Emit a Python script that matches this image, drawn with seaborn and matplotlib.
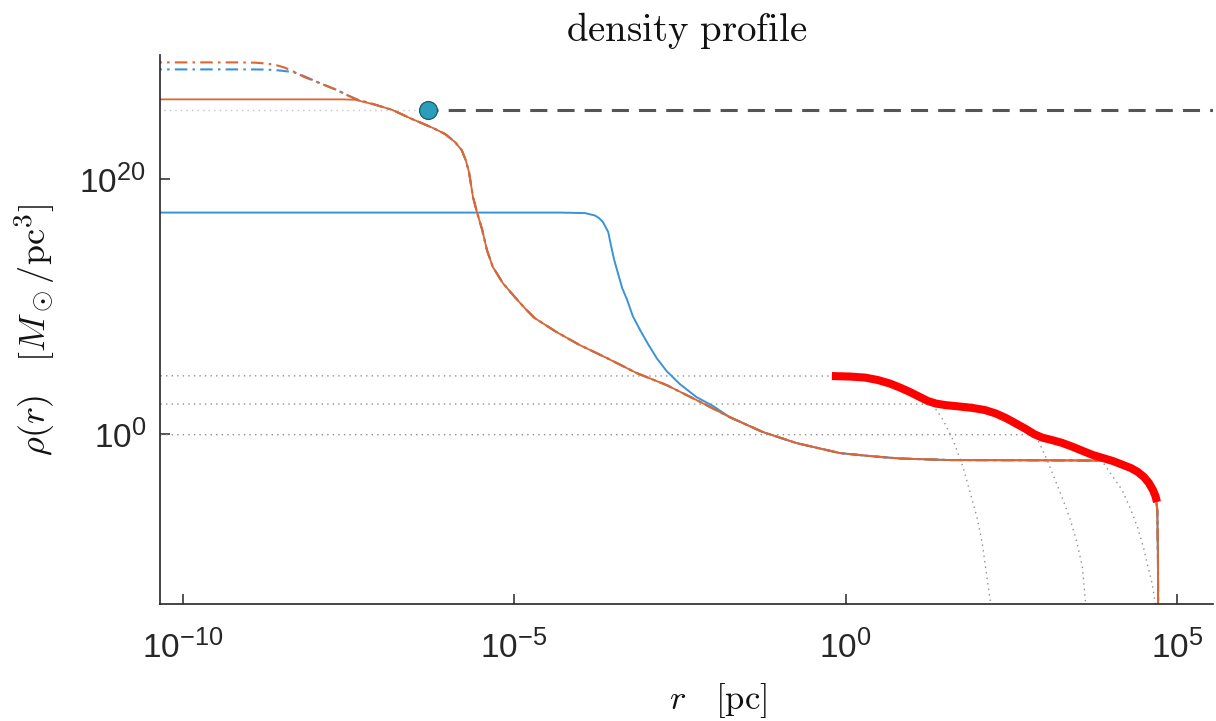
import numpy as np
import pandas as pd
import matplotlib
matplotlib.use("Agg")
import matplotlib.pyplot as plt
import seaborn as sns
from matplotlib.ticker import FixedLocator, NullLocator, FuncFormatter
import matplotlib._mathtext as _mt

# ---------------------------------------------------------------
# Density profiles, stored as log10(r / pc) and log10(rho / (Msun/pc^3))
# ---------------------------------------------------------------

# full model (orange, solid)
model_lr = [-10.5, -7.60, -7.40, -7.10, -6.83, -6.57, -6.22, -6.04, -5.89, -5.79,
            -5.73, -5.68, -5.62, -5.56, -5.48, -5.41, -5.32, -5.17, -4.99, -4.84,
            -4.69, -4.36, -4.01, -3.60, -3.15, -2.70, -2.25, -1.75, -1.25, -0.74,
            -0.09, 0.37, 0.82, 1.57, 3.08, 4.05, 4.17, 4.30, 4.41, 4.50,
            4.57, 4.635, 4.68, 4.70, 4.71, 4.713]
model_lrho = [26.25, 26.25, 26.22, 25.84, 25.41, 24.78, 24.00, 23.53, 22.90, 22.27,
              21.49, 20.55, 18.59, 17.41, 16.00, 14.43, 13.10, 11.84, 10.75, 9.88,
              9.10, 8.00, 6.98, 5.96, 4.78, 3.84, 2.67, 1.33, 0.16, -0.71,
              -1.49, -1.73, -1.92, -2.04, -2.06, -2.09, -2.20, -2.51, -2.90, -3.37,
              -3.84, -4.39, -5.02, -5.96, -9.88, -13.8]

# model with extended inner core (blue, solid)
core_lr = [-10.5, -4.31, -3.93, -3.78, -3.72, -3.66, -3.58, -3.54, -3.49, -3.43,
           -3.37, -3.30, -3.21, -3.10, -2.98, -2.85, -2.70, -2.50, -2.25, -2.00] + model_lr[27:]
core_lrho = [17.37, 17.37, 17.33, 17.14, 16.94, 16.63, 15.84, 14.82, 13.65, 12.55,
             11.45, 10.59, 9.25, 8.16, 7.06, 5.96, 4.94, 3.92, 2.90, 2.20] + model_lrho[27:]

# cuspy inner variants (dash-dot)
cusp_a_lr = [-10.5, -9.14, -8.91, -8.76, -8.61, -8.46, -8.31, -8.16, -7.97, -7.82,
             -7.67, -7.52, -7.37] + model_lr[3:]
cusp_a_lrho = [29.15, 29.15, 29.13, 29.07, 28.97, 28.74, 28.39, 27.99, 27.61, 27.29,
               26.98, 26.59, 26.24] + model_lrho[3:]
cusp_b_lr = [-10.5, -9.03, -8.76, -8.61, -8.49, -8.38, -8.28, -8.16, -8.05] + cusp_a_lr[8:]
cusp_b_lrho = [28.60, 28.60, 28.59, 28.55, 28.49, 28.42, 28.31, 28.05, 27.80] + cusp_a_lrho[8:]

# observed profile (red, thick)
obs_lr = [-0.207, 0.065, 0.291, 0.487, 0.668, 0.819, 0.970, 1.120, 1.241, 1.362,
          1.498, 1.694, 1.905, 2.101, 2.267, 2.418, 2.569, 2.719, 2.840, 2.961,
          3.111, 3.262, 3.413, 3.579, 3.729, 3.880, 4.031, 4.167, 4.302, 4.408,
          4.499, 4.574, 4.635, 4.672, 4.695]
obs_lrho = [4.549, 4.510, 4.431, 4.235, 3.961, 3.647, 3.294, 2.902, 2.588, 2.392,
            2.275, 2.173, 2.055, 1.882, 1.608, 1.255, 0.824, 0.392, 0.000, -0.275,
            -0.471, -0.690, -0.980, -1.333, -1.647, -1.882, -2.118, -2.392, -2.667, -2.980,
            -3.373, -3.843, -4.392, -4.863, -5.333]

# individual components of the observed profile (dotted)
comp1_lr = [-10.5, 0.065, 0.291, 0.487, 0.668, 0.819, 0.970, 1.120, 1.241, 1.32,
            1.47, 1.62, 1.77, 1.88, 1.98, 2.06, 2.13, 2.18, 2.21]
comp1_lrho = [4.57, 4.55, 4.43, 4.235, 3.96, 3.65, 3.29, 2.90, 2.59, 2.27,
              1.10, -0.47, -2.59, -4.63, -6.51, -8.55, -11.22, -13.02, -14.6]
comp2_lr = [-10.5, 1.90, 2.10, 2.267, 2.418, 2.569, 2.719, 2.84, 2.90, 3.04,
            3.16, 3.28, 3.39, 3.49, 3.57, 3.61, 3.64]
comp2_lrho = [2.35, 2.35, 2.00, 1.608, 1.255, 0.824, 0.392, 0.0, -0.47, -2.04,
              -3.61, -5.18, -6.75, -8.55, -10.43, -12.78, -14.6]
comp3_lr = [-10.5, 2.80, 2.961, 3.111, 3.262, 3.413, 3.579, 3.729, 3.84, 3.91,
            3.99, 4.17, 4.29, 4.40, 4.49, 4.56, 4.62, 4.67, 4.68]
comp3_lrho = [-0.05, -0.05, -0.30, -0.50, -0.72, -1.00, -1.35, -1.67, -1.96, -2.43,
              -3.06, -4.39, -5.80, -7.29, -8.86, -10.43, -11.69, -13.25, -14.6]

# reference point and level
ref_lr = -6.30
ref_lrho = 25.41
ref_line_end_lr = 6.0

# axis ranges and ticks
xlim_lr = (-10.34, 5.54)
ylim_lrho = (-13.33, 29.73)
xtick_exp = [-10, -5, 0, 5]
ytick_exp = [0, 20]

ORANGE = "#DE6632"
BLUE = "#3A93D4"
RED = "#FF0000"

sns.set_theme(style="ticks")
plt.rcParams["font.family"] = ["Liberation Sans", "DejaVu Sans"]
plt.rcParams["mathtext.fontset"] = "custom"
plt.rcParams["mathtext.rm"] = "Liberation Sans"
plt.rcParams["mathtext.it"] = "Liberation Sans:italic"
plt.rcParams["axes.unicode_minus"] = False
# slightly larger exponents on the power-of-ten labels
if hasattr(_mt, "SHRINK_FACTOR"):
    _mt.SHRINK_FACTOR = 0.76

fig = plt.figure(figsize=(12.16, 7.21), dpi=100)
ax = fig.add_axes([160 / 1216, 1 - 604 / 721, 1053 / 1216, 549 / 721])
ax.set_xscale("log")
ax.set_yscale("log")


def curve(lr, lrho, **kw):
    df = pd.DataFrame({"r": 10.0 ** np.asarray(lr), "rho": 10.0 ** np.asarray(lrho)})
    sns.lineplot(data=df, x="r", y="rho", sort=False, estimator=None, ax=ax, **kw)
    return ax.lines[-1]


DOT = (0, (1, 3))
for lr, lrho in [(comp1_lr, comp1_lrho), (comp2_lr, comp2_lrho), (comp3_lr, comp3_lrho)]:
    curve(lr, lrho, color="#8f8f8f", lw=1.0, linestyle=DOT, zorder=1)

# faint level line up to the reference point
curve([xlim_lr[0] - 0.2, ref_lr], [ref_lrho, ref_lrho], color="#c4c4c4", lw=1.0,
      linestyle=DOT, zorder=1)
# dashed level line beyond it
curve([ref_lr, ref_line_end_lr], [ref_lrho, ref_lrho], color="#555555", lw=2.2,
      linestyle=(2.3, (5.6, 3.3)), zorder=3)

curve(core_lr, core_lrho, color=BLUE, lw=1.4, zorder=2)
curve(cusp_b_lr, cusp_b_lrho, color=BLUE, lw=1.5, linestyle=(0, (6, 2.5, 1.2, 2.5)), zorder=2.1)
curve(cusp_a_lr, cusp_a_lrho, color=ORANGE, lw=1.5, linestyle=(0, (6, 2.5, 1.2, 2.5)), zorder=2.2)
curve(model_lr, model_lrho, color=ORANGE, lw=1.3, zorder=2.5)

obs = curve(obs_lr, obs_lrho, color=RED, lw=5.8, zorder=3)
obs.set_solid_capstyle("butt")
obs.set_solid_joinstyle("round")

sns.scatterplot(x=[10.0 ** ref_lr], y=[10.0 ** ref_lrho], s=165, color="#2A9EBB",
                edgecolor="#1A5A6A", linewidth=0.9, zorder=6, ax=ax, legend=False)

ax.set_xlim(10.0 ** xlim_lr[0], 10.0 ** xlim_lr[1])
ax.set_ylim(10.0 ** ylim_lrho[0], 10.0 ** ylim_lrho[1])

ax.xaxis.set_major_locator(FixedLocator([10.0 ** e for e in xtick_exp]))
ax.yaxis.set_major_locator(FixedLocator([10.0 ** e for e in ytick_exp]))
ax.xaxis.set_minor_locator(NullLocator())
ax.yaxis.set_minor_locator(NullLocator())
fmt = FuncFormatter(lambda v, pos: r"$\mathdefault{10^{%d}}$" % int(round(np.log10(v))))
ax.xaxis.set_major_formatter(fmt)
ax.yaxis.set_major_formatter(fmt)
ax.tick_params(axis="both", which="major", direction="in", length=7, width=1.1,
               color="#262626", labelsize=24, labelcolor="#262626")
ax.tick_params(axis="x", pad=19)
ax.tick_params(axis="y", pad=10)

for side in ("top", "right"):
    ax.spines[side].set_visible(False)
for side in ("left", "bottom"):
    ax.spines[side].set_linewidth(1.2)
    ax.spines[side].set_color("#262626")

ax.set_title(r"$\mathrm{density\ profile}$", fontsize=28, math_fontfamily="cm",
             color="#111111", pad=10)
ax.set_xlabel(r"$r\quad[\mathrm{pc}]$", fontsize=25, math_fontfamily="cm", color="#111111")
ax.set_ylabel(r"$\rho(r)\quad[M_\odot/\mathrm{pc}^3]$", fontsize=26, math_fontfamily="cm",
              color="#111111")
ax.xaxis.set_label_coords(0.53, -0.14)
ax.yaxis.set_label_coords(-0.098, 0.5)

fig.savefig("out.png", dpi=100)
